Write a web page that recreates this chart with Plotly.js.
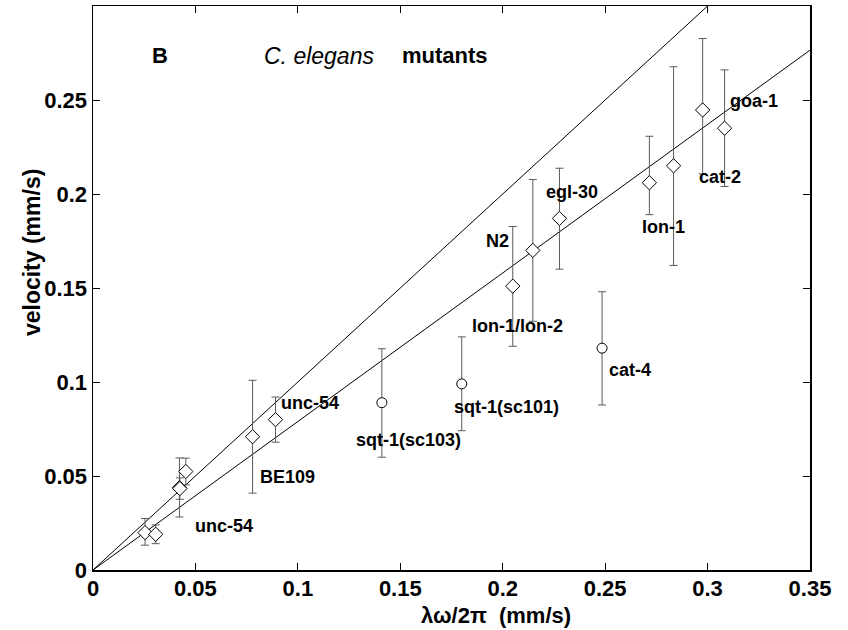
<!DOCTYPE html>
<html>
<head>
<meta charset="utf-8">
<script src="https://cdn.plot.ly/plotly-3.0.1.min.js"></script>
<style>html,body{margin:0;padding:0;background:#fff;}#chart{width:848px;height:630px;}</style>
</head>
<body>
<div id="chart"></div>
<script>
// Wild-type / mutant strains drawn as diamonds
const diamondX    = [0.0254, 0.0306, 0.0422, 0.0424, 0.0453, 0.0779, 0.0891, 0.2049, 0.2147, 0.2277, 0.2716, 0.2834, 0.2976, 0.3083];
const diamondY    = [0.0199, 0.0190, 0.0438, 0.0433, 0.0524, 0.0709, 0.0800, 0.1510, 0.1700, 0.1870, 0.2060, 0.2150, 0.2447, 0.2350];
const diamondUp   = [0.0075, 0.0050, 0.0158, 0.0057, 0.0071, 0.0300, 0.0120, 0.0317, 0.0377, 0.0267, 0.0247, 0.0527, 0.0380, 0.0310];
const diamondDown = [0.0067, 0.0050, 0.0156, 0.0057, 0.0071, 0.0300, 0.0120, 0.0320, 0.0377, 0.0270, 0.0170, 0.0530, 0.0340, 0.0310];
// sqt-1 and cat-4 mutants drawn as circles
const circleX    = [0.1410, 0.1800, 0.2485];
const circleY    = [0.0890, 0.0990, 0.1180];
const circleUp   = [0.0287, 0.0250, 0.0300];
const circleDown = [0.0290, 0.0249, 0.0302];
// reference lines through the origin
const lineX = [0, 0.35];
const slopeUpper = 1.0;
const slopeLower = 0.79;
// strain labels
const labelText = ["goa-1", "cat-2", "lon-1", "egl-30", "N2", "lon-1/lon-2", "cat-4", "sqt-1(sc101)", "sqt-1(sc103)", "unc-54", "BE109", "unc-54"];
const labelX    = [0.3100, 0.2948, 0.2670, 0.2200, 0.1910, 0.1840, 0.2507, 0.1750, 0.1273, 0.0909, 0.0806, 0.0486];
const labelY    = [0.2496, 0.2089, 0.1827, 0.2013, 0.1749, 0.1300, 0.1062, 0.0867, 0.0693, 0.0890, 0.0495, 0.0234];
// axis ticks
const xTickVals = [0, 0.05, 0.1, 0.15, 0.2, 0.25, 0.3, 0.35];
const xTickText = ["0", "0.05", "0.1", "0.15", "0.2", "0.25", "0.3", "0.35"];
const yTickVals = [0, 0.05, 0.1, 0.15, 0.2, 0.25, 0.3];
const yTickText = ["0", "0.05", "0.1", "0.15", "0.2", "0.25", ""];

const FONT = "Liberation Sans, Arial, Helvetica, sans-serif";
const errStyle = {type: 'data', symmetric: false, color: '#5a5a5a', thickness: 1, width: 4};

const traces = [
  {x: lineX, y: lineX.map(v => v * slopeUpper), mode: 'lines', line: {color: '#000', width: 1}, hoverinfo: 'skip'},
  {x: lineX, y: lineX.map(v => v * slopeLower), mode: 'lines', line: {color: '#000', width: 1}, hoverinfo: 'skip'},
  {x: diamondX, y: diamondY, mode: 'markers',
   marker: {symbol: 'diamond', size: 11, color: '#fff', line: {color: '#000', width: 1}},
   error_y: Object.assign({}, errStyle, {array: diamondUp, arrayminus: diamondDown})},
  {x: circleX, y: circleY, mode: 'markers',
   marker: {symbol: 'circle', size: 10, color: '#fff', line: {color: '#000', width: 1}},
   error_y: Object.assign({}, errStyle, {array: circleUp, arrayminus: circleDown})}
];

const annotations = labelText.map((t, i) => ({
  x: labelX[i], y: labelY[i], xref: 'x', yref: 'y', text: t, showarrow: false,
  xanchor: 'left', yanchor: 'middle', font: {family: FONT, size: 18, color: '#000', weight: 'bold'}
}));
annotations.push(
  {x: 0.0278, y: 0.2735, xref: 'x', yref: 'y', text: 'B', showarrow: false, xanchor: 'left', yanchor: 'middle',
   font: {family: FONT, size: 22, color: '#000', weight: 'bold'}},
  {x: 0.0824, y: 0.2735, xref: 'x', yref: 'y', text: '<i>C. elegans</i>', showarrow: false, xanchor: 'left', yanchor: 'middle',
   font: {family: FONT, size: 23, color: '#000', weight: 'normal'}},
  {x: 0.1497, y: 0.2735, xref: 'x', yref: 'y', text: 'mutants', showarrow: false, xanchor: 'left', yanchor: 'middle',
   font: {family: FONT, size: 22, color: '#000', weight: 'bold'}},
  {x: 0.562, y: -0.08, xref: 'paper', yref: 'paper', text: 'λω/2π  (mm/s)', showarrow: false, xanchor: 'center', yanchor: 'middle',
   font: {family: FONT, size: 22, color: '#000', weight: 'bold'}},
  {x: -0.085, y: 0.562, xref: 'paper', yref: 'paper', text: 'velocity (mm/s)', showarrow: false, textangle: -90,
   xanchor: 'center', yanchor: 'middle', font: {family: FONT, size: 23, color: '#000', weight: 'bold'}}
);

const axisCommon = {
  showgrid: false, zeroline: false, showline: true, linecolor: '#000', linewidth: 1.5, mirror: 'ticks',
  ticks: 'inside', ticklen: 7, tickwidth: 1, tickcolor: '#000', tickmode: 'array',
  tickfont: {family: FONT, size: 22, color: '#000', weight: 'bold'}
};

const layout = {
  width: 848, height: 630,
  margin: {l: 93, r: 38, t: 6, b: 60, pad: 0},
  paper_bgcolor: '#fff', plot_bgcolor: '#fff',
  showlegend: false,
  xaxis: Object.assign({}, axisCommon, {range: [0, 0.35], tickvals: xTickVals, ticktext: xTickText, ticklabelstandoff: -2}),
  yaxis: Object.assign({}, axisCommon, {range: [0, 0.3], tickvals: yTickVals, ticktext: yTickText, ticklabelstandoff: 0}),
  annotations: annotations
};

Plotly.newPlot('chart', traces, layout, {staticPlot: true});
</script>
</body>
</html>
